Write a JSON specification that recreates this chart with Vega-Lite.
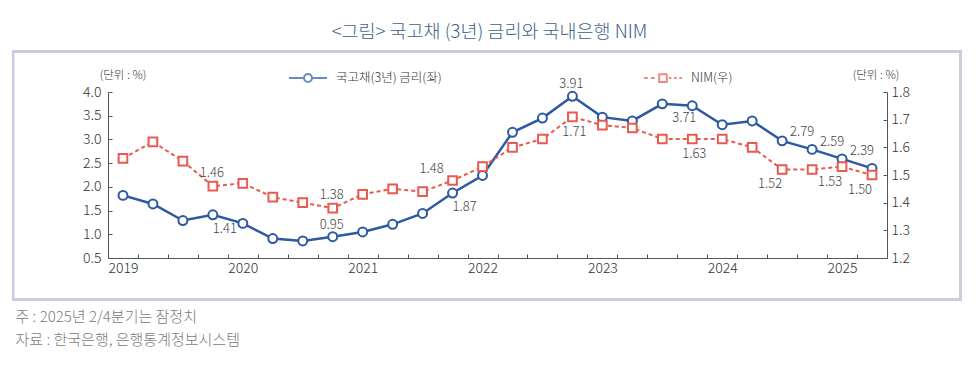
{
  "$schema": "https://vega.github.io/schema/vega-lite/v6.json",
  "width": 779,
  "height": 166,
  "autosize": {"type": "none"},
  "padding": {"left": 108, "top": 92, "right": 92, "bottom": 108},
  "background": "white",
  "config": {
    "font": "Noto Sans CJK KR",
    "view": {"stroke": null},
    "text": {"font": "Noto Sans CJK KR", "fontWeight": 300},
    "axis": {"grid": false, "domainColor": "#555555", "tickColor": "#555555", "labelColor": "#333333", "labelFont": "Noto Sans CJK KR", "labelFontWeight": 300, "labelFontSize": 14, "titleFont": "Noto Sans CJK KR", "titleFontWeight": 300}
  },
  "title": {
    "text": "<그림> 국고채 (3년) 금리와 국내은행 NIM",
    "font": "Noto Sans CJK KR",
    "fontSize": 18.5,
    "fontWeight": 300,
    "color": "#3f5f8a",
    "anchor": "middle",
    "frame": "group",
    "offset": 9,
    "dx": -8
  },
  "data": {
    "values": [
      {"i": 0, "rate": 1.82, "nim": 1.56},
      {"i": 1, "rate": 1.64, "nim": 1.62},
      {"i": 2, "rate": 1.29, "nim": 1.55},
      {"i": 3, "rate": 1.41, "nim": 1.46},
      {"i": 4, "rate": 1.23, "nim": 1.47},
      {"i": 5, "rate": 0.91, "nim": 1.42},
      {"i": 6, "rate": 0.86, "nim": 1.40},
      {"i": 7, "rate": 0.95, "nim": 1.38},
      {"i": 8, "rate": 1.05, "nim": 1.43},
      {"i": 9, "rate": 1.21, "nim": 1.45},
      {"i": 10, "rate": 1.44, "nim": 1.44},
      {"i": 11, "rate": 1.87, "nim": 1.48},
      {"i": 12, "rate": 2.24, "nim": 1.53},
      {"i": 13, "rate": 3.15, "nim": 1.60},
      {"i": 14, "rate": 3.45, "nim": 1.63},
      {"i": 15, "rate": 3.91, "nim": 1.71},
      {"i": 16, "rate": 3.47, "nim": 1.68},
      {"i": 17, "rate": 3.39, "nim": 1.67},
      {"i": 18, "rate": 3.75, "nim": 1.63},
      {"i": 19, "rate": 3.71, "nim": 1.63},
      {"i": 20, "rate": 3.31, "nim": 1.63},
      {"i": 21, "rate": 3.39, "nim": 1.60},
      {"i": 22, "rate": 2.97, "nim": 1.52},
      {"i": 23, "rate": 2.79, "nim": 1.52},
      {"i": 24, "rate": 2.59, "nim": 1.53},
      {"i": 25, "rate": 2.39, "nim": 1.50}
    ]
  },
  "layer": [
    {
      "encoding": {
        "x": {
          "field": "i", "type": "quantitative",
          "scale": {"domain": [-0.5, 25.5], "nice": false, "zero": false},
          "axis": {
            "values": [-0.5, 0.5, 1.5, 2.5, 3.5, 4.5, 5.5, 6.5, 7.5, 8.5, 9.5, 10.5, 11.5, 12.5, 13.5, 14.5, 15.5, 16.5, 17.5, 18.5, 19.5, 20.5, 21.5, 22.5, 23.5, 24.5],
            "labelExpr": "(datum.value + 0.5) % 4 == 0 ? '' + (2019 + (datum.value + 0.5) / 4) : ''",
            "labelOffset": 15,
            "labelFlush": false,
            "labelOverlap": false,
            "tickSize": -4,
            "labelPadding": 7,
            "title": ["주 : 2025년 2/4분기는 잠정치", "자료 : 한국은행, 은행통계정보시스템"],
            "titleAnchor": "start",
            "titleAlign": "left",
            "titleX": -93,
            "titleY": 63,
            "titleBaseline": "alphabetic",
            "titleLineHeight": 23,
            "titleFontSize": 15,
            "titleColor": "#7a7a7a"
          }
        },
        "y": {
          "field": "rate", "type": "quantitative",
          "scale": {"domain": [0.5, 4.0], "nice": false, "zero": false},
          "axis": {
            "orient": "left",
            "values": [0.5, 1.0, 1.5, 2.0, 2.5, 3.0, 3.5, 4.0],
            "format": ".1f",
            "tickSize": -4,
            "labelPadding": 11,
            "title": "(단위 : %)",
            "titleAngle": 0,
            "titleAlign": "center",
            "titleBaseline": "middle",
            "titleX": 14.5,
            "titleY": -17,
            "titleFontSize": 11.5,
            "titleColor": "#333333"
          }
        }
      },
      "layer": [
        {
          "mark": {"type": "rect", "fill": null, "stroke": "#c9cedb", "strokeWidth": 2, "clip": false},
          "encoding": {
            "x": {"datum": -3.67},
            "x2": {"datum": 27.95},
            "y": {"datum": 4.86},
            "y2": {"datum": -0.38}
          }
        },
        {"mark": {"type": "line", "color": "#2d59a3", "strokeWidth": 2.5}},
        {"mark": {"type": "point", "shape": "circle", "filled": true, "fill": "white", "stroke": "#2d59a3", "strokeWidth": 2, "size": 80, "opacity": 1}},
        {
          "transform": [{"filter": "indexof([23, 24, 25], datum.i) >= 0"}],
          "mark": {"type": "text", "fontSize": 13, "color": "#444444", "dx": -10, "dy": -17},
          "encoding": {"text": {"field": "rate", "type": "quantitative", "format": ".2f"}}
        },
        {
          "transform": [{"filter": "indexof([7, 15], datum.i) >= 0"}],
          "mark": {"type": "text", "fontSize": 13, "color": "#444444", "dx": -1, "dy": -12},
          "encoding": {"text": {"field": "rate", "type": "quantitative", "format": ".2f"}}
        },
        {
          "transform": [{"filter": "indexof([3, 11], datum.i) >= 0"}],
          "mark": {"type": "text", "fontSize": 13, "color": "#444444", "dx": 12, "dy": 14},
          "encoding": {"text": {"field": "rate", "type": "quantitative", "format": ".2f"}}
        },
        {
          "transform": [{"filter": "datum.i == 19"}],
          "mark": {"type": "text", "fontSize": 13, "color": "#444444", "dx": -8, "dy": 12},
          "encoding": {"text": {"field": "rate", "type": "quantitative", "format": ".2f"}}
        },
        {
          "transform": [{"filter": "false"}],
          "mark": {"type": "point", "filled": false, "strokeWidth": 2},
          "encoding": {
            "shape": {
              "field": "series", "type": "nominal",
              "scale": {
                "domain": ["국고채(3년) 금리(좌)", "NIM(우)"],
                "range": [
                  "M-1,0H-0.21M0.21,0H1M0.21,0A0.21,0.21,0,1,1,-0.21,0A0.21,0.21,0,1,1,0.21,0Z",
                  "M-1,0H-0.8M-0.64,0H-0.44M-0.2,-0.2H0.2V0.2H-0.2ZM0.3,0H0.44M0.58,0H0.72M0.86,0H1"
                ]
              },
              "legend": {
                "title": null,
                "orient": "none",
                "direction": "horizontal",
                "legendX": 180,
                "legendY": -34,
                "symbolSize": 1444,
                "symbolStrokeWidth": 2,
                "labelOffset": 8,
                "columnPadding": 198,
                "padding": 0,
                "labelFont": "Noto Sans CJK KR",
                "labelFontWeight": 300,
                "labelFontSize": 12.5,
                "labelColor": "#333333"
              }
            },
            "color": {
              "field": "series", "type": "nominal",
              "scale": {"domain": ["국고채(3년) 금리(좌)", "NIM(우)"], "range": ["#2d59a3", "#e85a50"]},
              "legend": {
                "title": null,
                "orient": "none",
                "direction": "horizontal",
                "legendX": 180,
                "legendY": -34,
                "symbolSize": 1444,
                "symbolStrokeWidth": 2,
                "labelOffset": 8,
                "columnPadding": 198,
                "padding": 0,
                "labelFont": "Noto Sans CJK KR",
                "labelFontWeight": 300,
                "labelFontSize": 12.5,
                "labelColor": "#333333"
              }
            }
          }
        }
      ]
    },
    {
      "encoding": {
        "x": {
          "field": "i", "type": "quantitative",
          "scale": {"domain": [-0.5, 25.5], "nice": false, "zero": false},
          "axis": {
            "values": [-0.5, 0.5, 1.5, 2.5, 3.5, 4.5, 5.5, 6.5, 7.5, 8.5, 9.5, 10.5, 11.5, 12.5, 13.5, 14.5, 15.5, 16.5, 17.5, 18.5, 19.5, 20.5, 21.5, 22.5, 23.5, 24.5],
            "labelExpr": "(datum.value + 0.5) % 4 == 0 ? '' + (2019 + (datum.value + 0.5) / 4) : ''",
            "labelOffset": 15,
            "labelFlush": false,
            "labelOverlap": false,
            "tickSize": -4,
            "labelPadding": 7,
            "title": ["주 : 2025년 2/4분기는 잠정치", "자료 : 한국은행, 은행통계정보시스템"],
            "titleAnchor": "start",
            "titleAlign": "left",
            "titleX": -93,
            "titleY": 63,
            "titleBaseline": "alphabetic",
            "titleLineHeight": 23,
            "titleFontSize": 15,
            "titleColor": "#7a7a7a"
          }
        },
        "y": {
          "field": "nim", "type": "quantitative",
          "scale": {"domain": [1.2, 1.8], "nice": false, "zero": false},
          "axis": {
            "orient": "right",
            "values": [1.2, 1.3, 1.4, 1.5, 1.6, 1.7, 1.8],
            "format": ".1f",
            "tickSize": -4,
            "labelPadding": 8,
            "title": "(단위 : %)",
            "titleAngle": 0,
            "titleAlign": "center",
            "titleBaseline": "middle",
            "titleX": -11.5,
            "titleY": -17,
            "titleFontSize": 11.5,
            "titleColor": "#333333"
          }
        }
      },
      "layer": [
        {"mark": {"type": "line", "color": "#e85a50", "strokeWidth": 2, "strokeDash": [4, 3]}},
        {"mark": {"type": "point", "shape": "square", "filled": true, "fill": "white", "stroke": "#e85a50", "strokeWidth": 2, "size": 75, "opacity": 1}},
        {
          "transform": [{"filter": "indexof([3, 7], datum.i) >= 0"}],
          "mark": {"type": "text", "fontSize": 13, "color": "#444444", "dx": -1, "dy": -13},
          "encoding": {"text": {"field": "nim", "type": "quantitative", "format": ".2f"}}
        },
        {
          "transform": [{"filter": "datum.i == 11"}],
          "mark": {"type": "text", "fontSize": 13, "color": "#444444", "dx": -21, "dy": -12},
          "encoding": {"text": {"field": "nim", "type": "quantitative", "format": ".2f"}}
        },
        {
          "transform": [{"filter": "indexof([15, 19], datum.i) >= 0"}],
          "mark": {"type": "text", "fontSize": 13, "color": "#444444", "dx": 2, "dy": 15},
          "encoding": {"text": {"field": "nim", "type": "quantitative", "format": ".2f"}}
        },
        {
          "transform": [{"filter": "indexof([22, 24, 25], datum.i) >= 0"}],
          "mark": {"type": "text", "fontSize": 13, "color": "#444444", "dx": -12, "dy": 15},
          "encoding": {"text": {"field": "nim", "type": "quantitative", "format": ".2f"}}
        }
      ]
    }
  ],
  "resolve": {"scale": {"y": "independent"}}
}
